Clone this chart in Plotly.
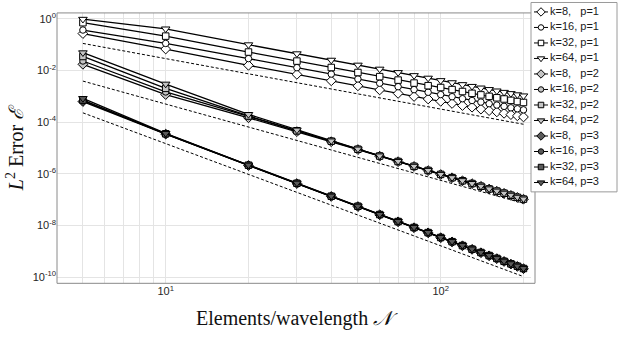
import plotly.graph_objects as go

W, H = 628, 338

# ---------------- data ----------------
N = [5, 10, 20, 30, 40, 50, 60, 70, 80, 90, 100, 110, 120, 130, 140, 150, 160, 170, 180, 190, 200]

err_k8_p1 = [0.27, 0.068, 0.0159, 0.0071, 0.0040, 0.00255, 0.00177, 0.00130, 0.00099, 0.00079, 0.00064,
             0.00053, 0.00044, 0.00038, 0.00032, 0.00028, 0.00025, 0.00022, 0.000196, 0.000176, 0.000159]
err_k16_p1 = [0.37, 0.112, 0.029, 0.0129, 0.0073, 0.0047, 0.00323, 0.00237, 0.00182, 0.00144, 0.00117,
              0.00097, 0.00081, 0.00069, 0.00060, 0.00052, 0.00046, 0.00041, 0.00036, 0.00033, 0.00030]
err_k32_p1 = [0.71, 0.215, 0.052, 0.0232, 0.0131, 0.0084, 0.0058, 0.00426, 0.00327, 0.00259, 0.0022,
              0.00183, 0.00154, 0.00131, 0.00114, 0.00100, 0.00088, 0.00079, 0.00070, 0.00063, 0.00058]
err_k64_p1 = [0.97, 0.41, 0.100, 0.0448, 0.0253, 0.0163, 0.0114, 0.0084, 0.0064, 0.0051, 0.0041,
              0.0034, 0.00287, 0.00245, 0.00212, 0.00185, 0.00163, 0.00144, 0.00129, 0.00116, 0.00105]

err_k8_p2 = [0.0174, 1.17e-3, 1.48e-4, 4.3e-5, 1.75e-5, 8.7e-6, 4.82e-6, 2.96e-6, 1.93e-6, 1.33e-6, 9.4e-7,
             7.05e-7, 5.36e-7, 4.17e-7, 3.28e-7, 2.58e-7, 2.12e-7, 1.76e-7, 1.46e-7, 1.22e-7, 1.04e-7]
err_k16_p2 = [0.0234, 1.48e-3, 1.66e-4, 4.55e-5, 1.81e-5, 8.85e-6, 4.88e-6, 2.99e-6, 1.94e-6, 1.34e-6, 9.45e-7,
              7.08e-7, 5.38e-7, 4.19e-7, 3.29e-7, 2.59e-7, 2.13e-7, 1.77e-7, 1.47e-7, 1.22e-7, 1.045e-7]
err_k32_p2 = [0.035, 2.04e-3, 1.74e-4, 4.65e-5, 1.84e-5, 8.95e-6, 4.9e-6, 3.0e-6, 1.95e-6, 1.35e-6, 9.5e-7,
              7.1e-7, 5.4e-7, 4.2e-7, 3.3e-7, 2.6e-7, 2.14e-7, 1.78e-7, 1.48e-7, 1.23e-7, 1.05e-7]
err_k64_p2 = [0.049, 3.0e-3, 2.0e-4, 5.0e-5, 1.9e-5, 9.2e-6, 5.0e-6, 3.05e-6, 1.98e-6, 1.37e-6, 9.6e-7,
              7.2e-7, 5.5e-7, 4.25e-7, 3.35e-7, 2.65e-7, 2.17e-7, 1.8e-7, 1.5e-7, 1.25e-7, 1.07e-7]

err_k8_p3 = [6.3e-4, 3.45e-5, 2.1e-6, 4.2e-7, 1.33e-7, 5.4e-8, 2.6e-8, 1.39e-8, 8.2e-9, 5.2e-9, 3.35e-9,
             2.31e-9, 1.64e-9, 1.19e-9, 8.8e-10, 6.7e-10, 5.2e-10, 4.03e-10, 3.2e-10, 2.6e-10, 2.12e-10]
err_k16_p3 = [6.8e-4, 3.5e-5, 2.14e-6, 4.27e-7, 1.35e-7, 5.5e-8, 2.63e-8, 1.41e-8, 8.3e-9, 5.25e-9, 3.39e-9,
              2.34e-9, 1.66e-9, 1.20e-9, 8.9e-10, 6.8e-10, 5.25e-10, 4.07e-10, 3.24e-10, 2.63e-10, 2.14e-10]
err_k32_p3 = [7.2e-4, 3.55e-5, 2.16e-6, 4.3e-7, 1.36e-7, 5.55e-8, 2.65e-8, 1.42e-8, 8.35e-9, 5.3e-9, 3.42e-9,
              2.36e-9, 1.67e-9, 1.21e-9, 9.0e-10, 6.85e-10, 5.3e-10, 4.1e-10, 3.26e-10, 2.65e-10, 2.16e-10]
err_k64_p3 = [8.3e-4, 3.7e-5, 2.2e-6, 4.4e-7, 1.39e-7, 5.65e-8, 2.7e-8, 1.45e-8, 8.5e-9, 5.4e-9, 3.49e-9,
              2.41e-9, 1.71e-9, 1.24e-9, 9.2e-10, 7.0e-10, 5.4e-10, 4.2e-10, 3.33e-10, 2.7e-10, 2.2e-10]

ref_N = [5, 200]
ref_p1 = [0.112, 8.3e-5]
ref_p2 = [3.9e-3, 7.2e-8]
ref_p3 = [2.3e-4, 1.05e-10]

labels = ["k=8,\u00a0\u00a0\u00a0p=1", "k=16, p=1", "k=32, p=1", "k=64, p=1",
          "k=8,\u00a0\u00a0\u00a0p=2", "k=16, p=2", "k=32, p=2", "k=64, p=2",
          "k=8,\u00a0\u00a0\u00a0p=3", "k=16, p=3", "k=32, p=3", "k=64, p=3"]
series = [err_k8_p1, err_k16_p1, err_k32_p1, err_k64_p1,
          err_k8_p2, err_k16_p2, err_k32_p2, err_k64_p2,
          err_k8_p3, err_k16_p3, err_k32_p3, err_k64_p3]

x_tickvals = [10, 100]
x_ticktext = ["10<sup>1</sup>", "10<sup>2</sup>"]
x_gridvals = [4, 5, 6, 7, 8, 9, 10, 20, 30, 40, 50, 60, 70, 80, 90, 100, 200]
y_tickvals = [1e-10, 1e-8, 1e-6, 1e-4, 1e-2, 1]
y_ticktext = ["10<sup>-10</sup>", "10<sup>-8</sup>", "10<sup>-6</sup>", "10<sup>-4</sup>",
              "10<sup>-2</sup>", "10<sup>0</sup>"]

# ---------------- style ----------------
symbols = ["diamond", "circle", "square", "triangle-down"] * 3
fills = ["#ffffff"] * 4 + ["#c4c4c4"] * 4 + ["#5a5a5a"] * 4
sizes = [7.5, 6.5, 6.5, 7.5] * 3

L, R, T, B = 57, 535, 11, 283      # axes box in pixels
LEG_L, LEG_R, LEG_T, LEG_B = 531, 617, 0, 191

def px(x):
    return x / W

def py(y):
    return 1 - y / H

fig = go.Figure()

for vals in (ref_p1, ref_p2, ref_p3):
    fig.add_trace(go.Scatter(x=ref_N, y=vals, mode="lines",
                             line=dict(color="black", width=1, dash="3px,2px"),
                             showlegend=False, hoverinfo="skip"))

for vals, sym, fc, sz in zip(series, symbols, fills, sizes):
    fig.add_trace(go.Scatter(x=N, y=vals, mode="lines+markers",
                             line=dict(color="black", width=1.3),
                             marker=dict(symbol=sym, size=sz, color=fc,
                                         line=dict(color="black", width=1)),
                             showlegend=False))

# ------------- custom legend (drawn in its own small axes) -------------
row_h = 15.6
for i, (lab, sym, fc, sz) in enumerate(zip(labels, symbols, fills, sizes)):
    r = 10 + row_h * i
    fig.add_trace(go.Scatter(x=[3, 17], y=[r, r], mode="lines", xaxis="x2", yaxis="y2",
                             line=dict(color="black", width=1), showlegend=False, hoverinfo="skip"))
    fig.add_trace(go.Scatter(x=[10], y=[r], mode="markers", xaxis="x2", yaxis="y2",
                             marker=dict(symbol=sym, size=sz - 1, color=fc, line=dict(color="black", width=1)),
                             showlegend=False, hoverinfo="skip"))
    fig.add_trace(go.Scatter(x=[19], y=[r], mode="text", text=[lab], textposition="middle right",
                             xaxis="x2", yaxis="y2",
                             textfont=dict(family="Liberation Sans, Arial, sans-serif", size=11, color="#1a1a1a"),
                             showlegend=False, hoverinfo="skip"))

# main axes: domain stops at legend's left edge, range scaled to keep 275 px/decade
dec_px = 275.0
x_lo = 1 - (165.7 - L) / dec_px
x_hi = x_lo + (LEG_L - L) / dec_px

tickfont = dict(family="Liberation Sans, Arial, sans-serif", size=11, color="#262626")
grid = "#e4e4e4"

fig.update_layout(
    width=W, height=H,
    margin=dict(l=0, r=0, t=0, b=0),
    paper_bgcolor="white", plot_bgcolor="white",
    showlegend=False,
    xaxis=dict(type="log", range=[x_lo, x_hi], domain=[px(L), px(LEG_L)],
               tickmode="array", tickvals=x_gridvals,
               ticktext=[x_ticktext[x_tickvals.index(v)] if v in x_tickvals else "" for v in x_gridvals],
               showgrid=True, gridcolor=grid, gridwidth=1, ticks="", showline=False, zeroline=False,
               tickfont=tickfont, anchor="y"),
    yaxis=dict(type="log", range=[-10.24, 0.23], domain=[py(B), py(T)],
               tickmode="array", tickvals=y_tickvals, ticktext=y_ticktext,
               showgrid=True, gridcolor=grid, gridwidth=1, ticks="", showline=False, zeroline=False,
               tickfont=tickfont, anchor="x"),
    xaxis2=dict(range=[0, LEG_R - LEG_L], domain=[px(LEG_L), px(LEG_R)], visible=False, anchor="y2"),
    yaxis2=dict(range=[LEG_B - LEG_T, 0], domain=[py(LEG_B), py(LEG_T)], visible=False, anchor="x2"),
)

frame = "#8a8a8a"
shapes = [
    dict(type="line", xref="paper", yref="paper", x0=px(L), x1=px(L), y0=py(T), y1=py(B), line=dict(color=frame, width=1)),
    dict(type="line", xref="paper", yref="paper", x0=px(L), x1=px(R), y0=py(B), y1=py(B), line=dict(color=frame, width=1)),
    dict(type="line", xref="paper", yref="paper", x0=px(L), x1=px(LEG_L), y0=py(T), y1=py(T), line=dict(color=frame, width=1)),
    dict(type="line", xref="paper", yref="paper", x0=px(R), x1=px(R), y0=py(LEG_B), y1=py(B), line=dict(color=frame, width=1)),
    dict(type="rect", xref="paper", yref="paper", x0=px(LEG_L), x1=px(LEG_R), y0=py(LEG_B), y1=py(LEG_T + 0.5),
         line=dict(color="#9a9a9a", width=1), fillcolor="rgba(0,0,0,0)", layer="above"),
]
fig.update_layout(shapes=shapes)

serif = "Liberation Serif, Times New Roman, serif"
fig.add_annotation(x=px(297), y=py(318), xref="paper", yref="paper", xanchor="center", yanchor="middle",
                   text="Elements/wavelength <i>\U0001D4A9</i>", showarrow=False,
                   font=dict(family=serif, size=20, color="#111111"))
fig.add_annotation(x=px(15), y=py(147), xref="paper", yref="paper", xanchor="center", yanchor="middle",
                   text="<i>L</i><sup>2</sup> Error <i>\u2130</i>", showarrow=False, textangle=-90,
                   font=dict(family=serif, size=20, color="#111111"))

fig.write_html("out.html")
